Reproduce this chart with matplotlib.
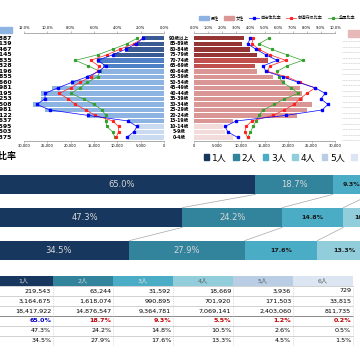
import matplotlib
matplotlib.use('Agg')
import matplotlib.pyplot as plt
import matplotlib.transforms as mtransforms
from matplotlib.patches import Patch, Rectangle
from matplotlib.lines import Line2D
import numpy as np

plt.rcParams['font.family'] = ['DejaVu Sans', 'Noto Sans CJK JP']

# population pyramid (top row = oldest)
ages = ['90歳以上', '85-89歳', '80-84歳', '75-79歳', '70-74歳', '65-69歳', '60-64歳',
        '55-59歳', '50-54歳', '45-49歳', '40-44歳', '35-39歳', '30-34歳', '25-29歳',
        '20-24歳', '15-19歳', '10-14歳', '5-9歳', '0-4歳']
male_pop = [4700, 5800, 8300, 10900, 14300, 13000, 13600, 16400, 20000, 23900,
            26400, 26400, 28100, 25600, 16400, 7700, 5800, 6200, 7700]
female_pop = [10600, 10200, 11900, 13400, 15700, 13000, 13400, 16800, 19400, 22600,
              23000, 23200, 25100, 24000, 21900, 8300, 6200, 6600, 8300]
male_city = [1.8, 2.4, 3.3, 4.4, 5.7, 5.0, 5.6, 6.6, 7.9, 9.1,
             10.2, 10.2, 10.9, 9.8, 6.5, 3.1, 2.3, 2.6, 3.2]
male_pref = [1.8, 2.6, 3.8, 4.9, 6.3, 5.6, 5.7, 6.3, 7.2, 8.0,
             9.0, 8.2, 7.6, 6.7, 5.9, 4.4, 3.9, 3.9, 4.1]
male_nation = [2.3, 3.2, 4.4, 5.7, 7.6, 6.5, 5.5, 5.7, 6.6, 7.2,
               8.0, 6.9, 6.0, 5.3, 5.0, 5.0, 4.9, 4.4, 4.2]
female_city = [4.0, 3.8, 4.4, 5.1, 5.9, 4.9, 5.1, 6.3, 7.4, 8.6,
               9.3, 9.0, 9.5, 9.1, 6.5, 3.0, 2.2, 2.4, 3.1]
female_pref = [4.2, 4.1, 4.6, 5.4, 6.5, 5.4, 5.2, 6.6, 7.5, 8.6,
               8.0, 7.5, 7.1, 6.4, 5.6, 4.1, 3.7, 3.6, 3.8]
female_nation = [5.3, 4.6, 5.5, 6.6, 7.7, 6.6, 5.9, 6.0, 6.3, 6.9,
                 7.4, 6.4, 5.7, 4.9, 4.6, 4.4, 4.2, 4.0, 3.8]
age_group = ['old'] * 4 + ['senior'] * 2 + ['work'] * 10 + ['child'] * 3
left_cut_nums = ['4,887', '6,139', '8,467', '11,145', '14,835', '13,328', '13,196',
                 '16,855', '20,660', '23,981', '26,195', '26,253', '28,508', '25,981',
                 '16,122', '7,637', '5,595', '6,503', '7,375']

# household composition
hh_labels = ['1人', '2人', '3人', '4人', '5人', '6人']
city_households = [219543, 63244, 31592, 18669, 3936, 729]
pref_households = [3164675, 1618074, 990895, 701920, 171503, 33815]
nation_households = [18417922, 14876547, 9364781, 7069141, 2403060, 811735]
city_ratio = [65.0, 18.7, 9.3, 5.5, 1.2, 0.2]
pref_ratio = [47.3, 24.2, 14.8, 10.5, 2.6, 0.5]
nation_ratio = [34.5, 27.9, 17.6, 13.3, 4.5, 1.5]

male_col = {'old': '#3a5a93', 'senior': '#4f7fc4', 'work': '#8db3e2', 'child': '#c9daf1'}
female_col = {'old': '#963634', 'senior': '#c0504d', 'work': '#da9694', 'child': '#f2dcdb'}
hh_colors = ['#17375e', '#31849b', '#4bacc6', '#92cddc', '#b9cde5', '#dce6f2']
axis_gray = '#8c8c8c'


def box(x0, y0, x1, y1):
    return [x0 / 360, 1 - y1 / 360, (x1 - x0) / 360, (y1 - y0) / 360]


fig = plt.figure(figsize=(3.6, 3.6), dpi=100)
y = np.arange(len(ages))

axL = fig.add_axes(box(24, 33, 164, 141))
axR = fig.add_axes(box(194, 33, 335, 141))
for ax, pop, cmap, xl in [(axL, male_pop, male_col, (30000, 0)),
                          (axR, female_pop, female_col, (0, 30000))]:
    ax.barh(y, pop, height=0.8, color=[cmap[g] for g in age_group])
    ax.set_xlim(*xl)
    ax.set_ylim(18.64, -0.96)
    ax.set_yticks([])
    ax.set_xticks(np.arange(0, 30001, 5000))
    ax.set_xticklabels([f'{v:,}' for v in range(0, 30001, 5000)])
    ax.tick_params(axis='x', labelsize=2.6, length=1.2, width=0.4, pad=1, color=axis_gray)
    for s in ['left', 'right', 'top']:
        ax.spines[s].set_visible(False)
    ax.spines['bottom'].set_color(axis_gray)
    ax.spines['bottom'].set_linewidth(0.5)

tL = axL.twiny()
tR = axR.twiny()
for t, xl, step, city, pref, nat in [(tL, (12, 0), 2, male_city, male_pref, male_nation),
                                     (tR, (0, 10), 1, female_city, female_pref, female_nation)]:
    t.plot(nat, y, color='#33a02c', lw=0.5, marker='s', ms=1.3)
    t.plot(pref, y, color='#ff2020', lw=0.5, marker='s', ms=1.3)
    t.plot(city, y, color='#0000ff', lw=0.5, marker='s', ms=1.6)
    t.set_xlim(*xl)
    ticks = np.arange(0, max(xl) + 0.01, step)
    t.set_xticks(ticks)
    t.set_xticklabels([f'{v:.1f}%' for v in ticks])
    t.tick_params(axis='x', labelsize=2.6, length=1.2, width=0.4, pad=1, color=axis_gray)
    for s in ['left', 'right', 'bottom']:
        t.spines[s].set_visible(False)
    t.spines['top'].set_color(axis_gray)
    t.spines['top'].set_linewidth(0.5)

# age labels in the middle and cut-off side tables
mid = mtransforms.blended_transform_factory(fig.transFigure, axL.transData)
for i, a in enumerate(ages):
    fig.text(179 / 360, i, a, transform=mid, ha='center', va='center',
             fontsize=3.3, fontweight='bold')
    fig.text(12 / 360, i, left_cut_nums[i], transform=mid, ha='right', va='center',
             fontsize=4.4, fontweight='bold')
    fig.add_artist(Line2D([342 / 360, 1], [i + 0.5, i + 0.5], transform=mid,
                          color='#bfbfbf', lw=0.4, ls=(0, (2, 1))))
fig.add_artist(Rectangle((0, 1 - 33 / 360), 12 / 360, 6 / 360,
                         transform=fig.transFigure, color='#8db4e2'))
fig.add_artist(Rectangle((348 / 360, 1 - 37 / 360), 12 / 360, 7 / 360,
                         transform=fig.transFigure, color='#e6b9b8'))

leg1 = [Patch(color='#8db3e2'), Patch(color='#da9694'),
        Line2D([], [], color='#0000ff', lw=0.5, marker='s', ms=1.6),
        Line2D([], [], color='#ff2020', lw=0.5, marker='s', ms=1.3),
        Line2D([], [], color='#33a02c', lw=0.5, marker='s', ms=1.3)]
fig.legend(leg1, ['男性', '女性', '自治体比率', '都道府県比率', '全国比率'],
           loc='center left', bbox_to_anchor=(197 / 360, 1 - 18 / 360), ncol=5,
           fontsize=3, frameon=False, handlelength=2.4, handleheight=0.9,
           columnspacing=1.2, handletextpad=0.4, borderpad=0)

# household section
fig.text(17 / 360, 1 - 156 / 360, '世帯人員比率', ha='right', va='center',
         fontsize=6.5, fontweight='bold')
leg2 = [Patch(color=c) for c in hh_colors]
fig.legend(leg2, hh_labels, loc='center left', bbox_to_anchor=(199 / 360, 1 - 158 / 360),
           ncol=6, fontsize=6.5, frameon=False, handlelength=0.6, handleheight=0.6,
           columnspacing=0.75, handletextpad=0.3, borderpad=0)

axS = fig.add_axes(box(-13, 168, 400, 267))
rows = [city_ratio, pref_ratio, nation_ratio]
cums = []
for r, vals in enumerate(rows):
    left = np.concatenate([[0], np.cumsum(vals)[:-1]])
    cums.append(np.cumsum(vals))
    axS.barh(r, vals, left=left, height=0.6, color=hh_colors)
    for k, (l, v) in enumerate(zip(left, vals)):
        if k < 2:
            axS.text(l + v / 2, r, f'{v:.1f}%', ha='center', va='center',
                     fontsize=6, color='#d9d9d9')
        elif k < 4:
            axS.text(l + v / 2, r, f'{v:.1f}%', ha='center', va='center',
                     fontsize=4.6, color='#1a1a1a', fontweight='bold')
for r in range(len(rows) - 1):
    for a, b in zip(cums[r][:-1], cums[r + 1][:-1]):
        axS.plot([a, b], [r + 0.3, r + 0.7], color='#a6a6a6', lw=0.5)
axS.set_xlim(0, 100)
axS.set_ylim(2.5, -0.5)
axS.axis('off')

# table
axT = fig.add_axes(box(-7, 276, 413, 346))
axT.set_xlim(0, 7)
axT.set_ylim(7, 0)
axT.axis('off')
axT.bar(np.arange(6), 1, width=1, bottom=0, align='edge', color=hh_colors)
hdr_txt = ['#d9d9d9', '#d9d9d9', '#e8e8e8', '#595959', '#595959', '#595959']
for c, lab in enumerate(hh_labels):
    axT.text(c + 0.5, 0.5, lab, ha='center', va='center', fontsize=4.5, color=hdr_txt[c])
table_rows = [[f'{v:,}' for v in city_households],
              [f'{v:,}' for v in pref_households],
              [f'{v:,}' for v in nation_households],
              [f'{v:.1f}%' for v in city_ratio],
              [f'{v:.1f}%' for v in pref_ratio],
              [f'{v:.1f}%' for v in nation_ratio]]
for r, vals in enumerate(table_rows):
    for c, s in enumerate(vals):
        color, weight = 'black', 'normal'
        if r == 3:
            color = '#0000cc' if c == 0 else '#c00000'
            weight = 'bold'
        axT.text(c + 0.97, r + 1.5, s, ha='right', va='center', fontsize=4.6,
                 color=color, fontweight=weight)
axT.hlines(np.arange(1, 8), 0, 6, color='#bfbfbf', lw=0.5)
axT.hlines([4], 0, 6, color='#7f7f7f', lw=0.6)
axT.vlines(np.arange(1, 7), 1, 7, color='#bfbfbf', lw=0.5, linestyles=':')

fig.savefig('out.png', dpi=100)
